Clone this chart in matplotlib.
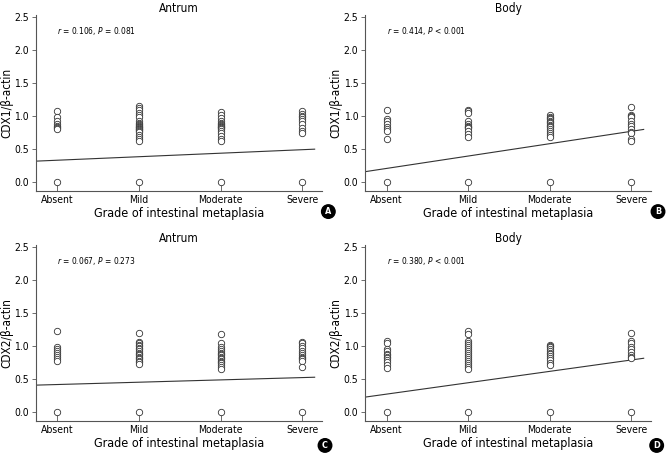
import matplotlib.pyplot as plt
import numpy as np

plt.rcParams['font.family'] = ['Liberation Sans Narrow', 'DejaVu Sans']
plt.rcParams['font.stretch'] = 'condensed'
plt.rcParams['mathtext.fontset'] = 'custom'
plt.rcParams['mathtext.rm'] = 'DejaVu Sans:stretch=condensed'
plt.rcParams['mathtext.it'] = 'DejaVu Sans:italic:stretch=condensed'

grades = ['Absent', 'Mild', 'Moderate', 'Severe']
yticks = [0.0, 0.5, 1.0, 1.5, 2.0, 2.5]

# CDX1 / beta-actin, antrum
cdx1_antrum = [
    [1.07, 0.98, 0.92, 0.88, 0.85, 0.83, 0.82, 0.80, 0.0],
    [1.16, 1.12, 1.09, 1.05, 1.02, 0.98, 0.93, 0.90, 0.88, 0.86, 0.85, 0.84, 0.83,
     0.82, 0.81, 0.80, 0.79, 0.78, 0.76, 0.72, 0.68, 0.65, 0.63, 0.0],
    [1.06, 1.02, 0.97, 0.93, 0.90, 0.88, 0.86, 0.85, 0.84, 0.83, 0.82, 0.80, 0.78,
     0.74, 0.70, 0.66, 0.63, 0.0],
    [1.08, 1.03, 1.00, 0.98, 0.96, 0.93, 0.88, 0.82, 0.77, 0.74, 0.0],
]
# CDX1 / beta-actin, body
cdx1_body = [
    [1.09, 0.95, 0.92, 0.88, 0.83, 0.80, 0.78, 0.65, 0.0],
    [1.09, 1.07, 1.05, 0.92, 0.88, 0.85, 0.84, 0.83, 0.82, 0.78, 0.73, 0.68, 0.0],
    [1.01, 0.99, 0.97, 0.95, 0.93, 0.91, 0.89, 0.87, 0.85, 0.83, 0.80, 0.78, 0.75,
     0.72, 0.68, 0.0],
    [1.14, 1.02, 1.00, 0.98, 0.92, 0.88, 0.85, 0.80, 0.76, 0.74, 0.66, 0.63, 0.0],
]
# CDX2 / beta-actin, antrum
cdx2_antrum = [
    [1.23, 0.98, 0.96, 0.93, 0.90, 0.87, 0.84, 0.81, 0.78, 0.0],
    [1.20, 1.06, 1.04, 1.02, 1.00, 0.97, 0.95, 0.92, 0.90, 0.88, 0.86, 0.84, 0.82,
     0.80, 0.78, 0.76, 0.73, 0.0],
    [1.19, 1.04, 0.98, 0.95, 0.92, 0.90, 0.88, 0.86, 0.84, 0.82, 0.80, 0.78, 0.76,
     0.74, 0.72, 0.69, 0.66, 0.0],
    [1.06, 1.04, 1.00, 0.97, 0.93, 0.90, 0.87, 0.84, 0.82, 0.80, 0.78, 0.68, 0.0],
]
# CDX2 / beta-actin, body
cdx2_body = [
    [1.07, 1.04, 0.96, 0.92, 0.88, 0.86, 0.84, 0.82, 0.79, 0.76, 0.72, 0.67, 0.0],
    [1.23, 1.19, 1.07, 1.04, 1.02, 0.99, 0.95, 0.92, 0.90, 0.87, 0.84, 0.81, 0.78,
     0.75, 0.72, 0.69, 0.66, 0.0],
    [1.02, 1.00, 0.98, 0.95, 0.92, 0.90, 0.88, 0.85, 0.82, 0.79, 0.75, 0.71, 0.0],
    [1.20, 1.07, 1.04, 0.99, 0.95, 0.91, 0.87, 0.84, 0.82, 0.0],
]

# regression line: value at "Absent" and slope per grade
fit_intercepts = [0.334, 0.21, 0.42, 0.275]
fit_slopes = [0.053, 0.187, 0.035, 0.172]

titles = ['Antrum', 'Body', 'Antrum', 'Body']
ylabels = ['CDX1/\u03b2-actin', 'CDX1/\u03b2-actin', 'CDX2/\u03b2-actin', 'CDX2/\u03b2-actin']
stats_r = ['0.106', '0.414', '0.067', '0.380']
stats_p = ['= 0.081', '< 0.001', '= 0.273', '< 0.001']
letters = ['A', 'B', 'C', 'D']
datasets = [cdx1_antrum, cdx1_body, cdx2_antrum, cdx2_body]

fig = plt.figure(figsize=(6.66, 4.55), dpi=100)
rects = [
    [0.0541, 0.5802, 0.4294, 0.3868],
    [0.5485, 0.5802, 0.4290, 0.3868],
    [0.0541, 0.0747, 0.4294, 0.3868],
    [0.5485, 0.0747, 0.4290, 0.3868],
]
letter_pos = [(0.493, 0.535), (0.988, 0.535), (0.488, 0.021), (0.986, 0.021)]

dark = '#333333'
for k in range(4):
    ax = fig.add_axes(rects[k])
    data = datasets[k]
    for i, vals in enumerate(data):
        ax.plot(np.full(len(vals), i), vals, 'o', mfc='white', mec=dark,
                ms=4.6, mew=0.6, zorder=3)
    xl = np.array([-0.26, 3.15])
    ax.plot(xl, fit_intercepts[k] + fit_slopes[k] * xl, color=dark, lw=0.8, zorder=2)

    ax.set_xlim(-0.26, 3.24)
    ax.set_ylim(-0.131, 2.527)
    ax.set_xticks(range(len(grades)))
    ax.set_xticklabels(grades, fontsize=7.5)
    ax.set_yticks(yticks)
    ax.set_yticklabels(['%.1f' % v for v in yticks], fontsize=7.5)
    ax.tick_params(axis='x', direction='in', length=6, width=0.6, color='#555555', pad=3)
    ax.tick_params(axis='y', direction='out', length=3, width=0.6, color='#555555', pad=2)
    for s in ['top', 'right']:
        ax.spines[s].set_visible(False)
    for s in ['left', 'bottom']:
        ax.spines[s].set_linewidth(0.8)
        ax.spines[s].set_color('#555555')

    ax.set_title(titles[k], fontsize=8.5, pad=1.5)
    ax.set_xlabel('Grade of intestinal metaplasia', fontsize=9, labelpad=1)
    ax.set_ylabel(ylabels[k], fontsize=8.5, labelpad=1)
    ax.text(0, 2.29, '$r$ = %s, $P$ %s' % (stats_r[k], stats_p[k]), fontsize=6,
            ha='left', va='center')

    fig.text(letter_pos[k][0], letter_pos[k][1], letters[k], color='white',
             fontsize=6.5, fontweight='bold', ha='center', va='center',
             bbox=dict(boxstyle='circle,pad=0.25', fc='black', ec='black'))

fig.savefig('out.png', dpi=100)
